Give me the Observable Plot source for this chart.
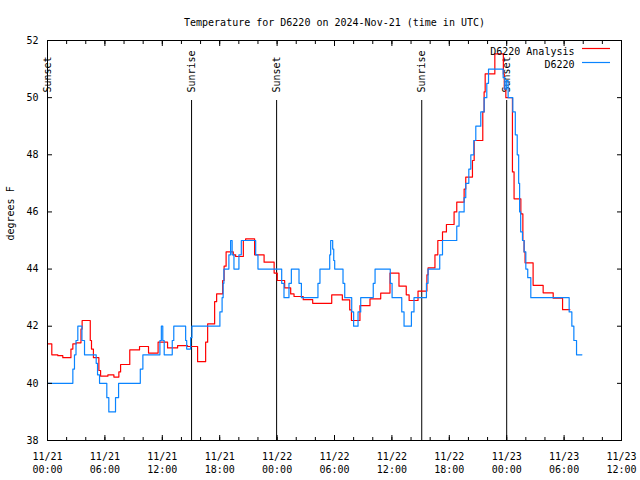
<!DOCTYPE html>
<html><head><meta charset="utf-8">
<script src="https://cdn.jsdelivr.net/npm/d3@7"></script>
<script src="https://cdn.jsdelivr.net/npm/@observablehq/plot@0.6"></script>
<style>
html,body{margin:0;padding:0;background:#fff;}
</style></head><body><div id="chart"></div>
<script>
// ---- data (hours since 2024-11-21 00:00 UTC, degrees F) ----
const titleText = "Temperature for D6220 on 2024-Nov-21 (time in UTC)";
const yLabel = "degrees F";
const seriesNames = ["D6220 Analysis", "D6220"];
const seriesColors = ["#ff0000", "#0a84ff"];

const analysisHours = [0,0.45,1.08,1.6,2.45,2.65,3.0,3.5,3.62,4.47,4.6,4.8,5.37,5.55,6.31,6.94,7.46,7.64,8.6,9.62,10.56,11.56,12.55,13.6,14.64,15.69,16.53,16.74,17.47,17.68,18.31,18.46,18.67,19.42,19.67,20.47,20.71,21.65,22.64,23.69,24.02,24.79,25.42,25.77,26.73,27.72,29.71,30.82,31.59,31.77,32.66,33.71,34.83,35.8,36.74,37.5,37.8,38.73,39.66,39.78,40.5,40.8,41.29,41.7,42.5,42.78,43.55,43.72,44.42,44.6,45.5,45.64,45.75,46.76,47.65,47.75,47.91,48.6,48.77,49.48,49.69,49.82,49.92,50.76,51.81,52.86,53.84,54.6];
const analysisTemps = [41.38,41.0,40.97,40.9,41.2,41.38,41.42,41.9,42.2,41.5,41.2,40.9,40.45,40.25,40.3,40.22,40.4,40.66,41.17,41.29,41.06,41.44,41.24,41.32,41.29,40.76,41.44,42.08,42.86,43.13,43.6,44.1,44.6,44.5,44.44,45.0,45.06,44.5,44.24,43.86,43.6,43.34,43.13,43.04,42.93,42.8,43.1,42.92,42.57,42.2,42.72,42.96,43.16,43.86,43.4,43.1,42.9,43.23,43.8,44.04,44.5,45.0,45.3,45.56,46.0,46.34,46.8,47.22,47.8,48.5,49.5,50.2,50.83,51.53,50.83,50.3,50.0,47.4,46.46,45.93,45.0,44.6,44.22,43.43,43.17,42.98,42.58,42.58];

const obsHours = [0,2.65,2.82,2.98,3.17,3.6,3.87,5.09,5.23,5.44,6.2,6.41,7.11,7.43,9.7,9.97,11.75,11.9,12.05,12.2,13.04,13.2,14.44,14.55,14.96,15.1,18.02,18.25,18.36,18.44,18.96,19.14,19.3,19.49,20.01,20.26,21.76,22.0,24.48,24.72,25.24,25.49,26.29,26.54,28.27,28.48,29.5,29.6,29.81,29.92,30.02,30.89,31.07,31.8,32.0,32.46,32.74,34.05,34.24,35.83,36.02,37.03,37.27,38.04,38.31,39.61,39.78,41.0,41.29,42.78,43.02,43.55,43.72,44.04,44.25,44.56,44.77,45.29,45.64,45.92,46.1,47.63,47.8,47.96,48.15,48.64,48.9,49.1,49.25,49.35,49.46,49.65,49.82,50.0,50.2,50.52,54.53,54.81,55.02,55.3,55.86];
const obsTemps = [40,40.5,41,41.5,42,41.5,41,40.7,40.3,40,39.5,39,39.5,40,40.5,41,41.5,42,41.5,41,41.5,42,41.5,41.2,41.6,42,42.5,43,43.5,44,44.5,45,44.5,44,44.5,45,44.5,44,43.5,43,43.5,44,43.5,43,43.5,44,44.5,45,44.7,44.3,44,43.5,43,42.5,42,42.5,43,43.5,44,43.5,43,42.5,42,42.5,43,43.5,44,44.5,45,45.5,46,46.5,47,47.5,48,48.5,49,49.5,50,50.5,51,50.7,50.3,50.6,50,49.5,48.7,48,47,46,45.3,45,44.6,44,43.7,43,42.5,42,41.5,41,41];

const sunLabels = ["Sunset","Sunrise","Sunset","Sunrise","Sunset"];
const sunHours = [0, 15.06, 23.95, 39.12, 48.0];
const sunLineTop = 49.9;   // degrees F where the marker lines stop

const yTicks = [38,40,42,44,46,48,50,52];
const xStartHour = 0, xEndHour = 60;

// ---- build ----
const t0 = Date.UTC(2024, 10, 21);
const toDate = h => new Date(t0 + h * 3600e3);
const analysis = analysisHours.map((h, i) => ({date: toDate(h), temp: analysisTemps[i]}));
const obs = obsHours.map((h, i) => ({date: toDate(h), temp: obsTemps[i]}));
const sun = sunHours.map((h, i) => ({date: toDate(h), label: sunLabels[i]}));
const xDomain = [toDate(xStartHour), toDate(xEndHour)];
const majorX = d3.utcHour.every(6).range(xDomain[0], toDate(xEndHour + 0.01));
const minorX = d3.utcHour.every(2).range(xDomain[0], toDate(xEndHour + 0.01));
const fmt = d3.utcFormat("%m/%d\n%H:%M");
const font = "'DejaVu Sans Mono','Liberation Mono',monospace";

const chart = Plot.plot({
  width: 640, height: 480,
  marginLeft: 47, marginRight: 19, marginTop: 40, marginBottom: 40,
  style: {fontFamily: font, fontSize: "10px", background: "white", color: "black", overflow: "visible"},
  x: {type: "utc", domain: xDomain},
  y: {domain: [38, 52]},
  marks: [
    Plot.ruleX(sun, {x: "date", y1: 38, y2: sunLineTop, stroke: "black", strokeWidth: 1}),
    Plot.text(sun, {x: "date", y: sunLineTop, text: "label", rotate: -90, textAnchor: "start", lineAnchor: "middle", dy: -8, fill: "black", fontSize: 10}),
    Plot.line(analysis, {x: "date", y: "temp", curve: "step-after", stroke: seriesColors[0], strokeWidth: 1.2}),
    Plot.line(obs, {x: "date", y: "temp", curve: "step-after", stroke: seriesColors[1], strokeWidth: 1.2}),
    Plot.frame({stroke: "black"}),
    Plot.axisY(yTicks, {anchor: "left", tickSize: -5, fill: "none", label: null}),
    Plot.axisY(yTicks, {anchor: "right", tickSize: -5, fill: "none", label: null}),
    Plot.axisY(yTicks, {anchor: "left", tickSize: 0, tickPadding: 9, label: null, fontSize: 10}),
    Plot.axisX(minorX, {anchor: "bottom", tickSize: -3, fill: "none", label: null}),
    Plot.axisX(minorX, {anchor: "top", tickSize: -3, fill: "none", label: null}),
    Plot.axisX(majorX, {anchor: "bottom", tickSize: -5, fill: "none", label: null}),
    Plot.axisX(majorX, {anchor: "top", tickSize: -5, fill: "none", label: null}),
    Plot.axisX(majorX, {anchor: "bottom", tickSize: 0, tickPadding: 10, tickFormat: fmt, label: null, lineHeight: 1.3, fontSize: 10}),
    Plot.text([titleText], {frameAnchor: "top", dy: -22, fontSize: 10, fill: "black"}),
    Plot.text([yLabel], {frameAnchor: "left", dx: -37, rotate: -90, fontSize: 10, fill: "black"}),
    ...seriesNames.map((name, i) => Plot.text([name], {frameAnchor: "top-right", dx: -47, dy: 7 + 13.5 * i, textAnchor: "end", fontSize: 10, fill: "black"}))
  ]
});
document.getElementById("chart").appendChild(chart);

// legend line samples
const svg = d3.select(chart);
seriesNames.forEach((name, i) => {
  svg.append("line")
    .attr("x1", 640 - 19 - 39).attr("x2", 640 - 19 - 11)
    .attr("y1", 40 + 8.5 + 14 * i).attr("y2", 40 + 8.5 + 14 * i)
    .attr("stroke", seriesColors[i]).attr("stroke-width", 1.2);
});
</script></body></html>
